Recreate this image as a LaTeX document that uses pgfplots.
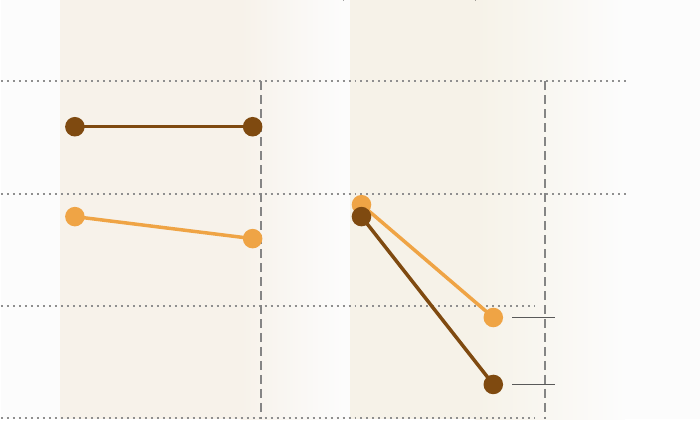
\documentclass[border=0pt]{standalone}
\usepackage{pgfplots}
\pgfplotsset{compat=1.18}
\definecolor{pagebg}{HTML}{FCFCFC}
\definecolor{bgleft}{HTML}{F7F2EA}
\definecolor{bgright}{HTML}{F6F2E8}
\definecolor{bgfade}{HTML}{FBF5EF}
\definecolor{darkbrown}{HTML}{7F4A10}
\definecolor{lightorange}{HTML}{EFA445}
\definecolor{gridgray}{HTML}{8F8F8F}
\definecolor{dashgray}{HTML}{858585}
\begin{document}
\begin{tikzpicture}
\begin{axis}[
    width=700bp, height=420bp,
    scale only axis,
    axis lines=none,
    ticks=none,
    xmin=0, xmax=700,
    ymin=-0.009, ymax=3.724,
    clip=false,
]
% page background, so the white margin on the right is kept
\fill[pagebg] (axis cs:0,-0.009) rectangle (axis cs:700,3.724);
% panel backgrounds
\fill[bgleft] (axis cs:59,-0.009) rectangle (axis cs:242,3.724);
\fill[left color=bgleft, middle color=bgfade, right color=pagebg]
    (axis cs:240,-0.009) rectangle (axis cs:343,3.724);
\fill[bgright] (axis cs:349,-0.009) rectangle (axis cs:477,3.724);
\fill[left color=bgright, middle color=bgfade, right color=pagebg]
    (axis cs:475,-0.009) rectangle (axis cs:625,3.724);

% dotted grid lines
\draw[gridgray, line width=2bp, dash pattern=on 2bp off 4bp]
    (axis cs:0,3) -- (axis cs:630,3)
    (axis cs:0,2) -- (axis cs:630,2)
    (axis cs:0,1) -- (axis cs:535,1)
    (axis cs:0,0) -- (axis cs:535,0);

% dashed reference lines
\draw[dashgray, line width=2bp, dash pattern=on 9bp off 5bp]
    (axis cs:260,3) -- (axis cs:260,-0.009)
    (axis cs:545,3) -- (axis cs:545,-0.009);

% end markers
\draw[black!65, line width=1.6bp]
    (axis cs:512,0.898) -- (axis cs:555,0.898)
    (axis cs:512,0.302) -- (axis cs:555,0.302);

% left panel
\addplot[darkbrown, line width=3.5bp, mark=*, mark size=8bp,
    mark options={draw=darkbrown, fill=darkbrown}]
    coordinates {(74,2.596) (252,2.596)};
\addplot[lightorange, line width=3.5bp, mark=*, mark size=8bp,
    mark options={draw=lightorange, fill=lightorange}]
    coordinates {(74,1.796) (252,1.6)};

% right panel
\addplot[lightorange, line width=3.5bp, mark=*, mark size=8bp,
    mark options={draw=lightorange, fill=lightorange}]
    coordinates {(361,1.902) (493,0.898)};
\addplot[darkbrown, line width=3.5bp, mark=*, mark size=8bp,
    mark options={draw=darkbrown, fill=darkbrown}]
    coordinates {(361,1.796) (493,0.302)};
\end{axis}
\end{tikzpicture}
\end{document}
